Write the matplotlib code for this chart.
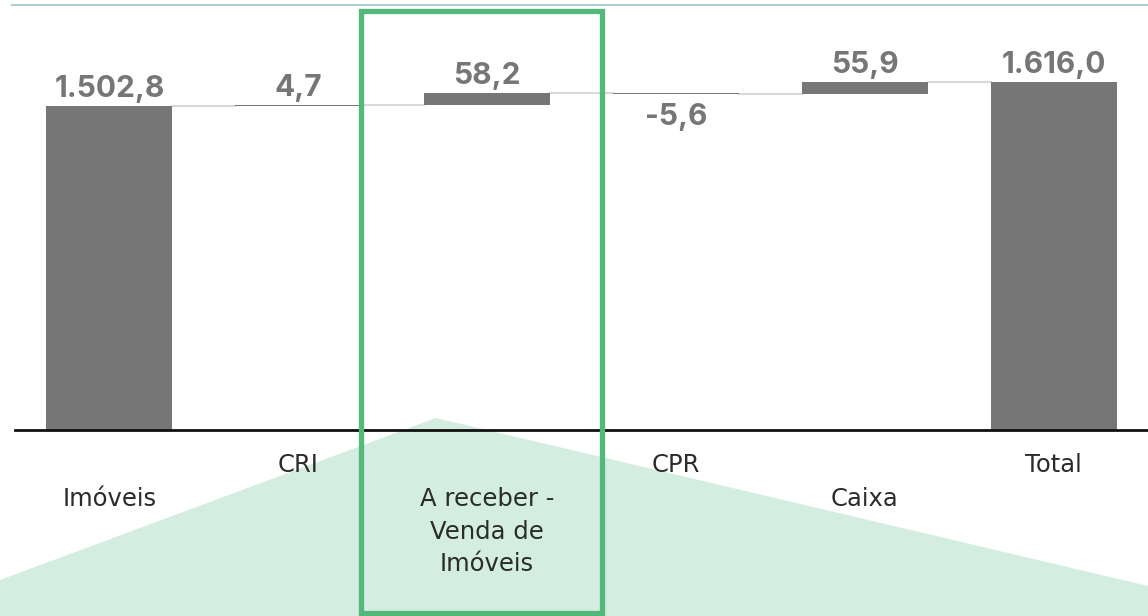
import matplotlib.pyplot as plt
from matplotlib.patches import Rectangle, Polygon
from matplotlib.lines import Line2D
import matplotlib.transforms as mtransforms

categories = ["Imóveis", "CRI", "A receber -\nVenda de\nImóveis", "CPR", "Caixa", "Total"]
values = [1502.8, 4.7, 58.2, -5.6, 55.9, 1616.0]
labels = ["1.502,8", "4,7", "58,2", "-5,6", "55,9", "1.616,0"]
is_total = [True, False, False, False, False, True]
low_label = [True, False, True, False, True, False]  # staggered category names

W, H = 1148, 616
fig = plt.figure(figsize=(W / 100, H / 100), dpi=100)
ax = fig.add_axes([15 / W, (H - 430) / H, 1133 / W, 426 / H])

# waterfall bottoms
bottoms = []
running = 0
for v, tot in zip(values, is_total):
    if tot:
        bottoms.append(0)
        running = v
    else:
        bottoms.append(running if v >= 0 else running + v)
        running += v

bar_col = "#767676"
bw = 0.667
x = list(range(len(values)))
ax.bar(x, [abs(v) for v in values], bottom=bottoms, width=bw, color=bar_col, zorder=3)

# connectors
level = 0
for i in range(len(values) - 1):
    level = values[i] if is_total[i] else level + values[i]
    ax.plot([i + bw / 2, i + 1 - bw / 2], [level, level], color="#d9d9d9", lw=1.5, zorder=2)

# value labels
vfont = dict(fontsize=21.5, fontweight="bold", color=bar_col, family=["Inter", "DejaVu Sans"])
for i, (v, b, lab) in enumerate(zip(values, bottoms, labels)):
    if v >= 0:
        ax.annotate(lab, (i, b + v), xytext=(0, 2), textcoords="offset points",
                    ha="center", va="bottom", **vfont)
    else:
        ax.annotate(lab, (i, b), xytext=(0, -6.5), textcoords="offset points",
                    ha="center", va="top", **vfont)

# category labels (staggered)
trans = mtransforms.blended_transform_factory(ax.transData, fig.transFigure)
for i, (c, low) in enumerate(zip(categories, low_label)):
    ypix = 487 if low else 453
    ax.text(i, (H - ypix) / H, c, transform=trans, ha="center", va="top",
            fontsize=17.5, fontweight="normal", color="#2b2b2b",
            family=["DejaVu Sans"], linespacing=1.45, zorder=6)

ax.set_xlim(-0.5, 5.5)
ax.set_ylim(0, 1977)
for s in ["top", "left", "right"]:
    ax.spines[s].set_visible(False)
ax.spines["bottom"].set_linewidth(2)
ax.spines["bottom"].set_color("#111111")
ax.spines["bottom"].set_zorder(5)
ax.set_xticks([])
ax.set_yticks([])
ax.patch.set_alpha(0)

# decorations in figure pixels
px = lambda xx, yy: (xx / W, (H - yy) / H)
poly = Polygon([px(0, 580), px(436, 418), px(1148, 586), px(1148, 616), px(0, 616)],
               closed=True, transform=fig.transFigure, facecolor="#d3ede0",
               edgecolor="none", zorder=0)
fig.patches.append(poly)
ax.set_zorder(1)
rect = Rectangle(px(361, 613), 241 / W, 602 / H, transform=fig.transFigure,
                 facecolor="none", edgecolor="#52b97a", lw=3.8, zorder=10)
fig.patches.append(rect)
fig.lines.append(Line2D([12 / W, 1], [px(0, 4.5)[1]] * 2, transform=fig.transFigure,
                        color="#aecdd2", lw=1.5))

fig.savefig("out.png", dpi=100)
